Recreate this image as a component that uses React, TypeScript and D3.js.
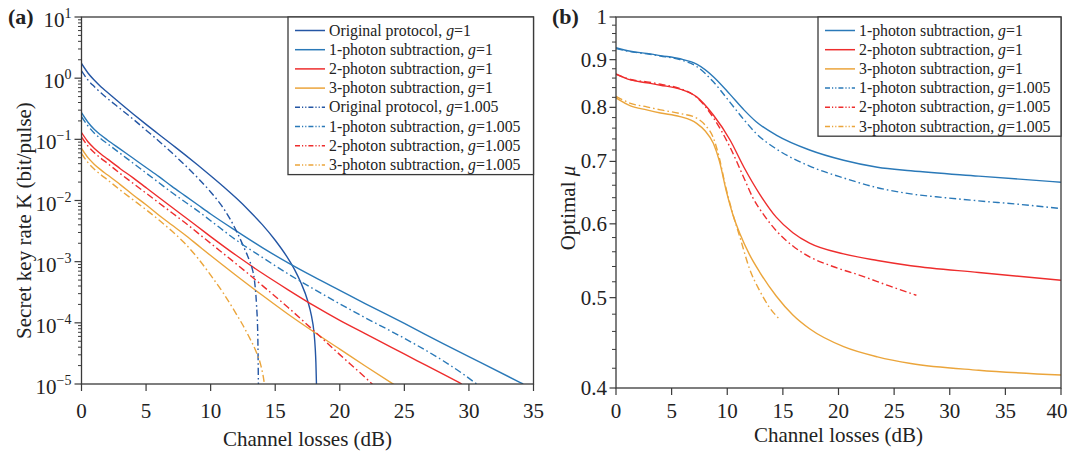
import React from "react";
import * as d3 from "d3";

// ---------- Panel (a): secret key rate, values as log10 K ----------
const lossOrig1 = [0, 0.5, 1, 1.5, 2, 3, 4, 5, 6, 7, 8, 9, 10, 11, 12, 13, 14, 15, 16, 16.5, 17, 17.5, 17.8, 18, 18.1, 18.15, 18.2];
const logKOrig1 = [0.24, 0.085, -0.035, -0.14, -0.23, -0.41, -0.585, -0.755, -0.92, -1.085, -1.25, -1.42, -1.595, -1.775, -1.965, -2.17, -2.395, -2.65, -2.95, -3.13, -3.35, -3.63, -3.88, -4.15, -4.42, -4.65, -5.05];

const lossOrig1005 = [0, 0.5, 1, 1.5, 2, 3, 4, 5, 6, 7, 8, 9, 10, 11, 11.5, 12, 12.5, 13, 13.2, 13.4, 13.55, 13.65, 13.7];
const logKOrig1005 = [0.12, -0.03, -0.14, -0.24, -0.33, -0.5, -0.67, -0.85, -1.03, -1.22, -1.42, -1.63, -1.86, -2.13, -2.3, -2.5, -2.73, -2.98, -3.1, -3.32, -3.7, -4.2, -5.05];

const lossPh1g1 = [0, 0.5, 1, 1.5, 2, 3, 4, 5, 6, 7, 8, 9, 10, 12, 14, 16, 18, 20, 22, 25, 28, 31, 34.2];
const logKPh1g1 = [-0.565, -0.72, -0.84, -0.93, -1.01, -1.16, -1.31, -1.46, -1.61, -1.77, -1.92, -2.07, -2.22, -2.5, -2.77, -3.02, -3.25, -3.47, -3.69, -4.01, -4.34, -4.66, -5.0];

const lossPh1g1005 = [0, 0.5, 1, 1.5, 2, 3, 4, 5, 6, 7, 8, 9, 10, 12, 14, 16, 18, 20, 22, 24, 26, 28, 29.5, 30.6];
const logKPh1g1005 = [-0.63, -0.78, -0.9, -0.99, -1.07, -1.23, -1.39, -1.55, -1.71, -1.87, -2.02, -2.17, -2.33, -2.65, -2.93, -3.2, -3.45, -3.69, -3.92, -4.14, -4.37, -4.62, -4.83, -5.0];

const lossPh2g1 = [0, 0.5, 1, 1.5, 2, 3, 4, 5, 6, 7, 8, 9, 10, 12, 14, 16, 18, 20, 22, 24, 26, 28, 29.45];
const logKPh2g1 = [-0.89, -1.04, -1.15, -1.24, -1.32, -1.48, -1.63, -1.79, -1.95, -2.11, -2.27, -2.43, -2.59, -2.9, -3.19, -3.46, -3.72, -3.96, -4.18, -4.4, -4.62, -4.84, -5.0];

const lossPh2g1005 = [0, 0.5, 1, 1.5, 2, 3, 4, 5, 6, 7, 8, 9, 10, 12, 14, 16, 18, 20, 22, 22.6];
const logKPh2g1005 = [-0.96, -1.11, -1.22, -1.31, -1.39, -1.56, -1.72, -1.88, -2.04, -2.2, -2.36, -2.53, -2.7, -3.04, -3.39, -3.75, -4.13, -4.52, -4.9, -5.02];

const lossPh3g1 = [0, 0.5, 1, 1.5, 2, 3, 4, 5, 6, 7, 8, 9, 10, 12, 14, 16, 18, 20, 22, 24.2];
const logKPh3g1 = [-1.15, -1.3, -1.41, -1.5, -1.58, -1.74, -1.91, -2.07, -2.24, -2.4, -2.56, -2.73, -2.9, -3.23, -3.55, -3.86, -4.15, -4.43, -4.71, -5.01];

const lossPh3g1005 = [0, 0.5, 1, 1.5, 2, 3, 4, 5, 6, 7, 8, 9, 10, 11, 12, 12.5, 13, 13.5, 13.84, 14.05, 14.2];
const logKPh3g1005 = [-1.23, -1.38, -1.49, -1.58, -1.66, -1.83, -1.99, -2.15, -2.32, -2.5, -2.7, -2.94, -3.22, -3.52, -3.86, -4.04, -4.24, -4.46, -4.66, -4.85, -5.05];

// ---------- Panel (b): optimal mu ----------
const lossMu1g1 = [0, 1.3, 2.76, 4, 5.75, 7.25, 8.75, 10.25, 11.5, 12.6, 14.4, 17.4, 20.46, 23.5, 26.5, 32.6, 40];
const muPh1g1 = [0.927, 0.919, 0.914, 0.909, 0.902, 0.89, 0.863, 0.826, 0.795, 0.772, 0.747, 0.72, 0.702, 0.69, 0.684, 0.675, 0.665];

const lossMu1g1005 = [0, 1.3, 2.76, 4, 5.75, 7.25, 8.75, 10.25, 11.5, 12.6, 14.4, 17.4, 20.46, 23.5, 26.5, 29.6, 32.6, 36, 40];
const muPh1g1005 = [0.925, 0.918, 0.913, 0.908, 0.9, 0.885, 0.852, 0.81, 0.776, 0.75, 0.722, 0.692, 0.672, 0.656, 0.646, 0.64, 0.635, 0.63, 0.623];

const lossMu2g1 = [0, 1.3, 2.76, 4, 5.75, 7.25, 8.75, 10.25, 11.5, 12.94, 14.4, 15.9, 17.4, 20.46, 23.5, 26.5, 32.6, 40];
const muPh2g1 = [0.869, 0.856, 0.85, 0.845, 0.837, 0.821, 0.785, 0.738, 0.69, 0.645, 0.61, 0.587, 0.572, 0.557, 0.548, 0.541, 0.532, 0.522];

const lossMu2g1005 = [0, 1.3, 2.76, 4, 5.75, 7.25, 8.75, 10.25, 11.5, 12.3, 13.3, 14.4, 15.9, 17.4, 19.5, 22, 24.5, 27];
const muPh2g1005 = [0.868, 0.857, 0.852, 0.847, 0.838, 0.82, 0.78, 0.725, 0.672, 0.64, 0.613, 0.59, 0.568, 0.553, 0.54, 0.528, 0.515, 0.503];

const lossMu3g1 = [0, 1.3, 2.76, 4, 5.75, 7.25, 8, 8.75, 9.3, 9.95, 10.5, 11.15, 12, 12.94, 14.4, 15.9, 17.4, 20.46, 23.5, 26.5, 32.6, 40];
const muPh3g1 = [0.819, 0.803, 0.795, 0.789, 0.782, 0.769, 0.755, 0.732, 0.7, 0.648, 0.614, 0.585, 0.556, 0.532, 0.502, 0.479, 0.463, 0.443, 0.432, 0.425, 0.418, 0.413];

const lossMu3g1005 = [0, 1.3, 2.76, 4, 5.75, 7.25, 8, 8.75, 9.3, 9.8, 10.5, 11.15, 12, 12.94, 13.8, 14.7];
const muPh3g1005 = [0.822, 0.808, 0.801, 0.795, 0.788, 0.779, 0.766, 0.742, 0.705, 0.662, 0.615, 0.58, 0.537, 0.508, 0.488, 0.474];

// ---------- ticks ----------
const xTicksA = [0, 5, 10, 15, 20, 25, 30, 35];
const yExpA = [-5, -4, -3, -2, -1, 0, 1];
const xTicksB = [0, 5, 10, 15, 20, 25, 30, 35, 40];
const yTicksB = [0.4, 0.5, 0.6, 0.7, 0.8, 0.9, 1];

const C_ORIG = "#2456a4";
const C_P1 = "#2a79b8";
const C_P2 = "#ee2d2d";
const C_P3 = "#eba53b";
const DASH = "7,3,1.6,3";
const FRAME = "#3a3a3a";
const FONT = "'Liberation Serif', 'Times New Roman', serif";

type Series = { xs: number[]; ys: number[]; color: string; dash?: string; label: string; gval: string };

const seriesA: Series[] = [
  { xs: lossOrig1, ys: logKOrig1, color: C_ORIG, label: "Original protocol, ", gval: "=1" },
  { xs: lossPh1g1, ys: logKPh1g1, color: C_P1, label: "1-photon subtraction, ", gval: "=1" },
  { xs: lossPh2g1, ys: logKPh2g1, color: C_P2, label: "2-photon subtraction, ", gval: "=1" },
  { xs: lossPh3g1, ys: logKPh3g1, color: C_P3, label: "3-photon subtraction, ", gval: "=1" },
  { xs: lossOrig1005, ys: logKOrig1005, color: C_ORIG, dash: DASH, label: "Original protocol, ", gval: "=1.005" },
  { xs: lossPh1g1005, ys: logKPh1g1005, color: C_P1, dash: DASH, label: "1-photon subtraction, ", gval: "=1.005" },
  { xs: lossPh2g1005, ys: logKPh2g1005, color: C_P2, dash: DASH, label: "2-photon subtraction, ", gval: "=1.005" },
  { xs: lossPh3g1005, ys: logKPh3g1005, color: C_P3, dash: DASH, label: "3-photon subtraction, ", gval: "=1.005" },
];

const seriesB: Series[] = [
  { xs: lossMu1g1, ys: muPh1g1, color: C_P1, label: "1-photon subtraction, ", gval: "=1" },
  { xs: lossMu2g1, ys: muPh2g1, color: C_P2, label: "2-photon subtraction, ", gval: "=1" },
  { xs: lossMu3g1, ys: muPh3g1, color: C_P3, label: "3-photon subtraction, ", gval: "=1" },
  { xs: lossMu1g1005, ys: muPh1g1005, color: C_P1, dash: DASH, label: "1-photon subtraction, ", gval: "=1.005" },
  { xs: lossMu2g1005, ys: muPh2g1005, color: C_P2, dash: DASH, label: "2-photon subtraction, ", gval: "=1.005" },
  { xs: lossMu3g1005, ys: muPh3g1005, color: C_P3, dash: DASH, label: "3-photon subtraction, ", gval: "=1.005" },
];

const A = { x0: 81.5, x1: 533.5, y0: 17, y1: 384 };
const B = { x0: 616, x1: 1061, y0: 17, y1: 388 };

const xA = d3.scaleLinear().domain([0, 35]).range([A.x0, A.x1]);
const yA = d3.scaleLog().domain([1e-5, 10]).range([A.y1, A.y0]);
const xB = d3.scaleLinear().domain([0, 40]).range([B.x0, B.x1]);
const yB = d3.scaleLog().domain([0.4, 1]).range([B.y1, B.y0]);

function Legend({ x, y, w, rows, items }: { x: number; y: number; w: number; rows: number; items: Series[] }) {
  const rowH = 19.2;
  const h = rows * rowH + 4;
  return (
    <g>
      <rect x={x} y={y} width={w} height={h} fill="#fff" stroke={FRAME} strokeWidth={1.3} />
      {items.map((s, i) => {
        const cy = y + 13.5 + i * rowH;
        return (
          <g key={i}>
            <line x1={x + 7} x2={x + 37} y1={cy} y2={cy} stroke={s.color} strokeWidth={1.5} strokeDasharray={s.dash ? "5,2,1.2,2,1.2,2" : undefined} />
            <text x={x + 41} y={cy + 5} fontSize={15.8} fontFamily={FONT} fill="#222">
              {s.label}
              <tspan fontStyle="italic">g</tspan>
              {s.gval}
            </text>
          </g>
        );
      })}
    </g>
  );
}

export default function App() {
  const lineA = d3
    .line<[number, number]>()
    .x((d) => xA(d[0]))
    .y((d) => yA(Math.pow(10, d[1])))
    .curve(d3.curveMonotoneX);
  const lineB = d3
    .line<[number, number]>()
    .x((d) => xB(d[0]))
    .y((d) => yB(d[1]))
    .curve(d3.curveMonotoneX);

  const minorA: number[] = [];
  for (let e = -5; e < 1; e++) for (let m = 2; m <= 9; m++) minorA.push(m * Math.pow(10, e));
  const minorB: number[] = [];
  for (let v = 0.42; v < 0.999; v += 0.02) {
    const r = Math.round(v * 100) / 100;
    if (Math.abs(r * 10 - Math.round(r * 10)) > 1e-6) minorB.push(r);
  }

  return (
    <svg width={1069} height={454} style={{ position: "absolute", left: 0, top: 0, background: "#fff" }} fontFamily={FONT}>
      <defs>
        <clipPath id="clipA">
          <rect x={A.x0} y={A.y0} width={A.x1 - A.x0} height={A.y1 - A.y0} />
        </clipPath>
        <clipPath id="clipB">
          <rect x={B.x0} y={B.y0} width={B.x1 - B.x0} height={B.y1 - B.y0} />
        </clipPath>
      </defs>

      {/* ---------- Panel (a) ---------- */}
      <g clipPath="url(#clipA)">
        {seriesA.map((s, i) => (
          <path key={i} d={lineA(s.xs.map((x, j) => [x, s.ys[j]] as [number, number])) || ""} fill="none" stroke={s.color} strokeWidth={1.4} strokeDasharray={s.dash} />
        ))}
      </g>
      <rect x={A.x0} y={A.y0} width={A.x1 - A.x0} height={A.y1 - A.y0} fill="none" stroke={FRAME} strokeWidth={1.3} />
      {xTicksA.map((t) => (
        <g key={t}>
          <line x1={xA(t)} x2={xA(t)} y1={A.y1} y2={A.y1 + 7} stroke={FRAME} strokeWidth={1.2} />
          <text x={xA(t)} y={A.y1 + 34} fontSize={21} textAnchor="middle" fill="#222">{t}</text>
        </g>
      ))}
      {yExpA.map((e) => (
        <g key={e}>
          <line x1={A.x0 - 7} x2={A.x0} y1={yA(Math.pow(10, e))} y2={yA(Math.pow(10, e))} stroke={FRAME} strokeWidth={1.2} />
          <text x={A.x0 - 10} y={yA(Math.pow(10, e)) + 10} fontSize={21} textAnchor="end" fill="#222">
            10<tspan dy={-9} fontSize={14}>{e < 0 ? "\u2212" + Math.abs(e) : String(e)}</tspan>
          </text>
        </g>
      ))}
      {minorA.map((v, i) => (
        <line key={i} x1={A.x0 - 3.5} x2={A.x0} y1={yA(v)} y2={yA(v)} stroke={FRAME} strokeWidth={1} />
      ))}
      <text x={(A.x0 + A.x1) / 2} y={446} fontSize={21} textAnchor="middle" fill="#222">Channel losses (dB)</text>
      <text transform={`translate(31,${(A.y0 + A.y1) / 2 + 20}) rotate(-90)`} fontSize={21} textAnchor="middle" fill="#222">
        Secret key rate K (bit/pulse)
      </text>
      <text x={8} y={24} fontSize={22} fontWeight="bold" fill="#222">(a)</text>
      <Legend x={288} y={A.y0} w={A.x1 - 288} rows={8} items={seriesA} />

      {/* ---------- Panel (b) ---------- */}
      <g clipPath="url(#clipB)">
        {seriesB.map((s, i) => (
          <path key={i} d={lineB(s.xs.map((x, j) => [x, s.ys[j]] as [number, number])) || ""} fill="none" stroke={s.color} strokeWidth={1.4} strokeDasharray={s.dash} />
        ))}
      </g>
      <rect x={B.x0} y={B.y0} width={B.x1 - B.x0} height={B.y1 - B.y0} fill="none" stroke={FRAME} strokeWidth={1.3} />
      {xTicksB.map((t) => (
        <g key={t}>
          <line x1={xB(t)} x2={xB(t)} y1={B.y1} y2={B.y1 + 7} stroke={FRAME} strokeWidth={1.2} />
          <text x={Math.min(xB(t), 1057)} y={B.y1 + 30} fontSize={21} textAnchor="middle" fill="#222">{t}</text>
        </g>
      ))}
      {yTicksB.map((t) => (
        <g key={t}>
          <line x1={B.x0 - 6.5} x2={B.x0} y1={yB(t)} y2={yB(t)} stroke={FRAME} strokeWidth={1.2} />
          <text x={B.x0 - 9} y={yB(t) + 7} fontSize={21} textAnchor="end" fill="#222">{t === 1 ? "1" : t.toFixed(1)}</text>
        </g>
      ))}
      {minorB.map((v, i) => (
        <line key={i} x1={B.x0 - 4} x2={B.x0} y1={yB(v)} y2={yB(v)} stroke={FRAME} strokeWidth={1} />
      ))}
      <text x={(B.x0 + B.x1) / 2} y={442} fontSize={21} textAnchor="middle" fill="#222">Channel losses (dB)</text>
      <text transform={`translate(575,208) rotate(-90)`} fontSize={21} textAnchor="middle" fill="#222">
        Optimal <tspan fontStyle="italic">μ</tspan>
      </text>
      <text x={552} y={24} fontSize={22} fontWeight="bold" fill="#222">(b)</text>
      <Legend x={818} y={B.y0} w={B.x1 - 818} rows={6} items={seriesB} />
    </svg>
  );
}
